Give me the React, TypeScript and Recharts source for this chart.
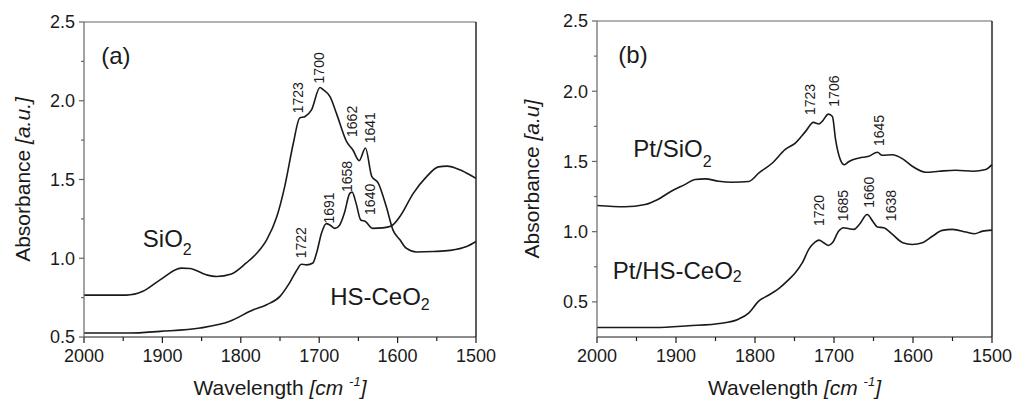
import React from 'react';
import { LineChart, Line, XAxis, YAxis, ReferenceDot, ReferenceLine, Label } from 'recharts';

// wavenumber [cm-1] / absorbance pairs
const sio2Wn = [2000, 1946, 1925, 1903, 1876, 1865, 1844, 1831, 1812, 1793, 1780, 1767, 1754, 1744, 1733, 1725, 1718, 1710, 1699, 1695, 1686, 1678, 1665, 1657, 1649, 1641, 1633, 1625, 1614, 1606, 1597, 1589, 1576, 1554, 1533, 1512, 1500];
const sio2Abs = [0.766, 0.766, 0.79, 0.863, 0.937, 0.935, 0.895, 0.884, 0.9, 0.97, 1.03, 1.117, 1.265, 1.455, 1.73, 1.89, 1.9, 1.94, 2.084, 2.07, 2.025, 1.92, 1.74, 1.687, 1.62, 1.7, 1.52, 1.48, 1.32, 1.18, 1.117, 1.064, 1.04, 1.043, 1.05, 1.074, 1.106];

const ceo2Wn = [2000, 1942, 1903, 1852, 1814, 1784, 1767, 1750, 1738, 1727, 1723, 1716, 1708, 1703, 1697, 1691, 1686, 1680, 1674, 1668, 1661, 1658, 1653, 1647, 1641, 1632, 1619, 1608, 1597, 1580, 1563, 1548, 1537, 1520, 1508, 1500];
const ceo2Abs = [0.525, 0.525, 0.536, 0.557, 0.6, 0.673, 0.705, 0.758, 0.842, 0.937, 0.962, 0.958, 0.97, 1.04, 1.16, 1.22, 1.21, 1.19, 1.21, 1.285, 1.412, 1.42, 1.35, 1.243, 1.233, 1.19, 1.193, 1.205, 1.265, 1.412, 1.518, 1.58, 1.585, 1.56, 1.53, 1.507];

const ptSio2Wn = [2000, 1965, 1939, 1923, 1906, 1889, 1876, 1863, 1846, 1829, 1808, 1795, 1778, 1762, 1749, 1736, 1726, 1719, 1715, 1707, 1702, 1698, 1692, 1687, 1681, 1668, 1656, 1645, 1639, 1626, 1613, 1601, 1584, 1567, 1546, 1524, 1508, 1500];
const ptSio2Abs = [1.186, 1.177, 1.193, 1.229, 1.288, 1.335, 1.371, 1.376, 1.359, 1.352, 1.357, 1.418, 1.489, 1.584, 1.631, 1.714, 1.778, 1.767, 1.785, 1.837, 1.82, 1.655, 1.513, 1.477, 1.5, 1.525, 1.537, 1.565, 1.544, 1.548, 1.518, 1.466, 1.423, 1.43, 1.437, 1.43, 1.442, 1.477];

const ptCeo2Wn = [2000, 1927, 1884, 1842, 1821, 1808, 1795, 1783, 1770, 1757, 1749, 1740, 1732, 1724, 1719, 1713, 1707, 1702, 1694, 1688, 1681, 1675, 1668, 1658, 1651, 1645, 1637, 1626, 1613, 1601, 1588, 1575, 1563, 1550, 1533, 1522, 1512, 1500];
const ptCeo2Abs = [0.318, 0.318, 0.33, 0.348, 0.377, 0.42, 0.507, 0.547, 0.595, 0.66, 0.708, 0.779, 0.874, 0.926, 0.94, 0.921, 0.902, 0.921, 1.004, 1.028, 1.021, 1.016, 1.051, 1.122, 1.075, 1.033, 1.028, 0.98, 0.921, 0.909, 0.921, 0.969, 1.009, 1.016, 0.997, 0.985, 1.004, 1.011];

// peak annotations: label, wavenumber, absorbance where the text starts
const peaksA = [
  { label: '1723', wn: 1727, abs: 1.92 },
  { label: '1700', wn: 1700, abs: 2.11 },
  { label: '1662', wn: 1658, abs: 1.77 },
  { label: '1641', wn: 1635, abs: 1.73 },
  { label: '1658', wn: 1665, abs: 1.42 },
  { label: '1691', wn: 1688, abs: 1.22 },
  { label: '1640', wn: 1635, abs: 1.275 },
  { label: '1722', wn: 1723, abs: 1.0 },
];
const peaksB = [
  { label: '1723', wn: 1730, abs: 1.83 },
  { label: '1706', wn: 1700, abs: 1.89 },
  { label: '1645', wn: 1643, abs: 1.61 },
  { label: '1720', wn: 1719, abs: 1.04 },
  { label: '1685', wn: 1688, abs: 1.075 },
  { label: '1660', wn: 1656, abs: 1.17 },
  { label: '1638', wn: 1628, abs: 1.075 },
];

const xTicks = [2000, 1950, 1900, 1850, 1800, 1750, 1700, 1650, 1600, 1550, 1500];
const yTicks = [0.5, 0.75, 1.0, 1.25, 1.5, 1.75, 2.0, 2.25, 2.5];

const zip = (wn: number[], abs: number[]) => wn.map((w, i) => ({ wn: w, abs: abs[i] }));

const FONT = '"Liberation Sans", Arial, sans-serif';
const INK = '#1a1a1a';

const XTick = (props: any) => {
  const { x, y, payload } = props;
  const v = payload.value;
  const major = v % 100 === 0;
  const axisY = y - 12;
  return (
    <g>
      <line x1={x} x2={x} y1={axisY} y2={axisY + (major ? 6 : 4)} stroke={INK} strokeWidth={1.2} />
      {major && (
        <text x={x} y={y} dy="0.72em" textAnchor="middle" fontSize={18} fontFamily={FONT} fill={INK}>
          {v}
        </text>
      )}
    </g>
  );
};

const YTick = (props: any) => {
  const { x, y, payload } = props;
  const v = payload.value;
  const major = Math.abs(v * 2 - Math.round(v * 2)) < 1e-6;
  const axisX = x + 9;
  return (
    <g>
      <line x1={axisX} x2={axisX - (major ? 5 : 3)} y1={y} y2={y} stroke="#666" strokeWidth={1.2} />
      {major && (
        <text x={x} y={y} dy="0.36em" textAnchor="end" fontSize={18} fontFamily={FONT} fill={INK}>
          {v.toFixed(1)}
        </text>
      )}
    </g>
  );
};

const xTitle = (props: any) => {
  const vb = props.viewBox;
  return (
    <text x={vb.x + vb.width / 2} y={vb.y + 58} textAnchor="middle" fontSize={21} fontFamily={FONT} fill={INK}>
      Wavelength{' '}
      <tspan fontStyle="italic">
        [cm <tspan dy={-9} fontSize={13}>-1</tspan>
        <tspan dy={9}>]</tspan>
      </tspan>
    </text>
  );
};

const makeYTitle = (unit: string, cx: number) => (props: any) => {
  const vb = props.viewBox;
  const cy = vb.y + vb.height / 2;
  return (
    <text
      x={cx}
      y={cy}
      transform={`rotate(-90 ${cx} ${cy})`}
      textAnchor="middle"
      dominantBaseline="central"
      fontSize={21}
      fontFamily={FONT}
      fill={INK}
    >
      Absorbance <tspan fontStyle="italic">{unit}</tspan>
    </text>
  );
};

const peakShape = (label: string) => (s: any) => (
  <text
    x={s.cx}
    y={s.cy}
    transform={`rotate(-90 ${s.cx} ${s.cy})`}
    dominantBaseline="central"
    fontSize={14}
    fontFamily={FONT}
    fill={INK}
  >
    {label}
  </text>
);

const nameShape = (main: string, sub: string, subDy: number, size = 24) => (s: any) => (
  <text x={s.cx} y={s.cy} fontSize={size} fontFamily={FONT} fill={INK}>
    {main}
    <tspan dy={subDy} fontSize={16}>{sub}</tspan>
  </text>
);

interface SeriesLabel {
  main: string;
  sub: string;
  subDy: number;
  wn: number;
  abs: number;
}

interface PanelProps {
  left: number;
  margin: { top: number; right: number; bottom: number; left: number };
  yDomain: [number, number];
  series: Array<Array<{ wn: number; abs: number }>>;
  peaks: Array<{ label: string; wn: number; abs: number }>;
  names: SeriesLabel[];
  tag: { text: string; wn: number; abs: number };
  yUnit: string;
  yTitleX: number;
}

function Panel({ left, margin, yDomain, series, peaks, names, tag, yUnit, yTitleX }: PanelProps) {
  return (
    <div style={{ position: 'absolute', left, top: 0 }}>
      <LineChart width={506} height={401} margin={margin}>
        <XAxis
          dataKey="wn"
          type="number"
          domain={[1500, 2000]}
          reversed
          ticks={xTicks}
          interval={0}
          tick={XTick}
          tickLine={false}
          tickSize={6}
          tickMargin={6}
          height={30}
          axisLine={{ stroke: INK, strokeWidth: 1.2 }}
        >
          <Label content={xTitle} />
        </XAxis>
        <YAxis
          type="number"
          domain={yDomain}
          ticks={yTicks}
          interval={0}
          tick={YTick}
          tickLine={false}
          tickSize={5}
          tickMargin={4}
          width={60}
          allowDataOverflow
          axisLine={{ stroke: '#666', strokeWidth: 1.2 }}
        >
          <Label content={makeYTitle(yUnit, yTitleX)} />
        </YAxis>
        {/* frame: top and right edges */}
        <ReferenceLine y={yDomain[1]} stroke="#666" strokeWidth={1.2} />
        <ReferenceLine x={1500} stroke={INK} strokeWidth={1.4} />
        {series.map((d, i) => (
          <Line
            key={i}
            data={d}
            dataKey="abs"
            type="monotone"
            stroke={INK}
            strokeWidth={1.6}
            dot={false}
            isAnimationActive={false}
          />
        ))}
        {peaks.map((p) => (
          <ReferenceDot key={p.label + p.wn} x={p.wn} y={p.abs} r={0} shape={peakShape(p.label)} />
        ))}
        {names.map((n) => (
          <ReferenceDot key={n.main} x={n.wn} y={n.abs} r={0} shape={nameShape(n.main, n.sub, n.subDy)} />
        ))}
        <ReferenceDot x={tag.wn} y={tag.abs} r={0} shape={nameShape(tag.text, '', 0, 24)} />
      </LineChart>
    </div>
  );
}

export default function App() {
  return (
    <div style={{ position: 'absolute', left: 0, top: 0, width: 1012, height: 401, background: '#fff' }}>
      <Panel
        left={0}
        margin={{ top: 22, right: 30, bottom: 34, left: 24 }}
        yDomain={[0.5, 2.5]}
        series={[zip(sio2Wn, sio2Abs), zip(ceo2Wn, ceo2Abs)]}
        peaks={peaksA}
        names={[
          { main: 'SiO', sub: '2', subDy: 8, wn: 1925, abs: 1.074 },
          { main: 'HS-CeO', sub: '2', subDy: 5, wn: 1686, abs: 0.705 },
        ]}
        tag={{ text: '(a)', wn: 1978, abs: 2.236 }}
        yUnit="[a.u.]"
        yTitleX={22}
      />
      <Panel
        left={506}
        margin={{ top: 21, right: 20, bottom: 34, left: 31 }}
        yDomain={[0.25, 2.5]}
        series={[zip(ptSio2Wn, ptSio2Abs), zip(ptCeo2Wn, ptCeo2Abs)]}
        peaks={peaksB}
        names={[
          { main: 'Pt/SiO', sub: '2', subDy: 10, wn: 1954, abs: 1.532 },
          { main: 'Pt/HS-CeO', sub: '2', subDy: 3, wn: 1980, abs: 0.661 },
        ]}
        tag={{ text: '(b)', wn: 1973, abs: 2.199 }}
        yUnit="[a.u]"
        yTitleX={25}
      />
    </div>
  );
}
